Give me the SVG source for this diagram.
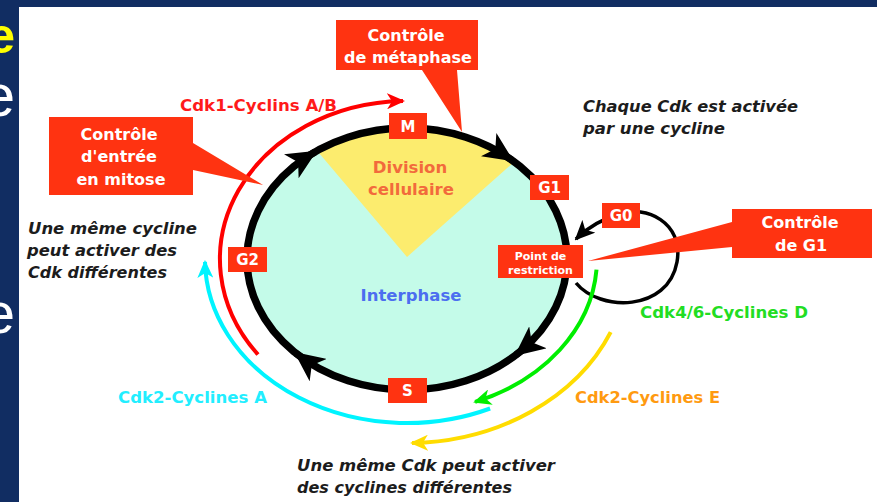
<svg xmlns="http://www.w3.org/2000/svg" width="877" height="502" viewBox="0 0 877 502">
<style>
.rd{fill:#ff3311}
.wt{fill:#fff;font-family:"DejaVu Sans",sans-serif;font-weight:bold;text-anchor:middle}
.cw{font-size:16px}
.lab{font-family:"DejaVu Sans",sans-serif;font-weight:bold;font-size:16.5px}
.it{font-family:"DejaVu Sans",sans-serif;font-weight:bold;font-style:italic;font-size:16px;fill:#1c1c1c}
.arc{fill:none;stroke-width:4}
</style>
<defs>
<marker id="mk" viewBox="0 0 30 28" refX="28" refY="14" markerWidth="30" markerHeight="28" markerUnits="userSpaceOnUse" orient="auto"><path d="M0,0 L30,14 L0,28 L8,14 Z" fill="#000"/></marker>
<marker id="mk0" viewBox="0 0 20 18" refX="18" refY="9" markerWidth="20" markerHeight="18" markerUnits="userSpaceOnUse" orient="auto"><path d="M0,0 L20,9 L0,18 L5,9 Z" fill="#000"/></marker>
<marker id="mr" viewBox="0 0 18 16" refX="16" refY="8" markerWidth="18" markerHeight="16" markerUnits="userSpaceOnUse" orient="auto"><path d="M0,0 L18,8 L0,16 L5,8 Z" fill="#ff0000"/></marker>
<marker id="mc" viewBox="0 0 18 16" refX="16" refY="8" markerWidth="18" markerHeight="16" markerUnits="userSpaceOnUse" orient="auto"><path d="M0,0 L18,8 L0,16 L5,8 Z" fill="#00f4ff"/></marker>
<marker id="mg" viewBox="0 0 18 16" refX="16" refY="8" markerWidth="18" markerHeight="16" markerUnits="userSpaceOnUse" orient="auto"><path d="M0,0 L18,8 L0,16 L5,8 Z" fill="#00ee00"/></marker>
<marker id="my" viewBox="0 0 18 16" refX="16" refY="8" markerWidth="18" markerHeight="16" markerUnits="userSpaceOnUse" orient="auto"><path d="M0,0 L18,8 L0,16 L5,8 Z" fill="#ffdc00"/></marker>
</defs>

<rect width="877" height="502" fill="#112d62"/>
<rect x="19" y="7" width="858" height="495" fill="#ffffff"/>
<g id="slide-edge" font-family="'Liberation Sans',sans-serif" text-anchor="end">
<text x="15" y="53" font-size="50" font-weight="bold" fill="#ffff00">e</text>
<text x="15" y="116" font-size="60" fill="#ffffff">e</text>
<text x="15" y="333" font-size="58" fill="#ffffff">e</text>
</g>

<g id="cycle">
<ellipse cx="407" cy="259" rx="160" ry="131" fill="#c4fbe9"/>
<path d="M407,257 L317.1,150.7 A160,131 0 0,1 514.3,161.8 Z" fill="#fcec6e"/>
<ellipse cx="407" cy="259" rx="160" ry="131" fill="none" stroke="#000" stroke-width="7.5"/>
<text class="lab" x="410" y="173" text-anchor="middle" font-size="17" fill="#f26a3c">Division</text>
<text class="lab" x="411" y="195" text-anchor="middle" font-size="17" fill="#f26a3c">cellulaire</text>
<text class="lab" x="411" y="301" text-anchor="middle" font-size="17.5" fill="#4c6ef0">Interphase</text>
</g>

<g id="connectors">
<path d="M308.5,155.8 L315.2,151.7" stroke="#000" stroke-width="7" marker-end="url(#mk)"/>
<path d="M505.5,155.8 L512,160.1" stroke="#000" stroke-width="7" marker-end="url(#mk)"/>
<path d="M522.1,350 L516.1,354.8" stroke="#000" stroke-width="7" marker-end="url(#mk)"/>
<path d="M302,357.9 L295.8,353.2" stroke="#000" stroke-width="7" marker-end="url(#mk)"/>
<path d="M576,283 C600,312 668,312 677,262 C684,222 645,205 620,214 C602,219 587,228 576,239" fill="none" stroke="#000" stroke-width="3.5" marker-end="url(#mk0)"/>
<path class="arc" d="M258,354.5 A187,158 0 0,1 403,101" stroke="#ff0000" stroke-width="3.5" marker-end="url(#mr)"/>
<path class="arc" d="M490.1,408.5 A202,164 0 0,1 205,261.9" stroke="#00f4ff" marker-end="url(#mc)"/>
<path class="arc" d="M596.5,269.7 A190,153 0 0,1 475.1,401.8" stroke="#00ee00" marker-end="url(#mg)"/>
<path class="arc" d="M610.7,332.1 A222,184 0 0,1 412,443" stroke="#ffdc00" marker-end="url(#my)"/>
</g>

<g id="callout-mitose">
<path class="rd" d="M49,117 H193 V143 L263,185 L193,170 V195 H49 Z"/>
<text class="wt cw" x="119" y="140">Contrôle</text>
<text class="wt cw" x="119" y="162">d'entrée</text>
<text class="wt cw" x="121" y="185">en mitose</text>
</g>
<g id="callout-metaphase">
<path class="rd" d="M336,20 H478 V70 H457 L462,132 L422,70 H336 Z"/>
<text class="wt cw" x="406" y="41">Contrôle</text>
<text class="wt cw" x="408" y="63">de métaphase</text>
</g>
<g id="callout-g1">
<path class="rd" d="M732,209 H872 V258 H732 V247 L588,261 L732,222 Z"/>
<text class="wt cw" x="800" y="228">Contrôle</text>
<text class="wt cw" x="801" y="251">de G1</text>
</g>

<g id="phase-M"><rect class="rd" x="389" y="113" width="38" height="26"/><text class="wt" x="408" y="132" font-size="15">M</text></g>
<g id="phase-G1"><rect class="rd" x="530" y="175" width="39" height="25"/><text class="wt" x="549.5" y="193" font-size="15">G1</text></g>
<g id="phase-G0"><rect class="rd" x="602" y="203" width="38" height="25"/><text class="wt" x="621" y="221" font-size="15">G0</text></g>
<g id="phase-G2"><rect class="rd" x="228" y="247" width="39" height="25"/><text class="wt" x="247.5" y="265" font-size="15">G2</text></g>
<g id="phase-S"><rect class="rd" x="388" y="378" width="39" height="25"/><text class="wt" x="407.5" y="396" font-size="15">S</text></g>
<g id="restriction"><rect class="rd" x="498" y="245" width="85" height="33"/><text class="wt" x="540.5" y="260" font-size="11">Point de</text><text class="wt" x="540.5" y="274" font-size="11">restriction</text></g>

<g id="labels">
<text class="lab" x="180" y="111" fill="#ff1a1a" textLength="157" lengthAdjust="spacingAndGlyphs">Cdk1-Cyclins A/B</text>
<text class="lab" x="640" y="318" fill="#22dd22" textLength="168" lengthAdjust="spacingAndGlyphs">Cdk4/6-Cyclines D</text>
<text class="lab" x="575" y="403" fill="#ff9a10" textLength="145" lengthAdjust="spacingAndGlyphs">Cdk2-Cyclines E</text>
<text class="lab" x="118" y="403" fill="#22eeff" textLength="149" lengthAdjust="spacingAndGlyphs">Cdk2-Cyclines A</text>
<text class="it" x="583" y="112" textLength="215" lengthAdjust="spacingAndGlyphs">Chaque Cdk est activée</text>
<text class="it" x="583" y="134" textLength="142" lengthAdjust="spacingAndGlyphs">par une cycline</text>
<text class="it" x="28" y="234" textLength="169" lengthAdjust="spacingAndGlyphs">Une même cycline</text>
<text class="it" x="27" y="256" textLength="150" lengthAdjust="spacingAndGlyphs">peut activer des</text>
<text class="it" x="28" y="278" textLength="139" lengthAdjust="spacingAndGlyphs">Cdk différentes</text>
<text class="it" x="297" y="471" textLength="258" lengthAdjust="spacingAndGlyphs">Une même Cdk peut activer</text>
<text class="it" x="297" y="493" textLength="215" lengthAdjust="spacingAndGlyphs">des cyclines différentes</text>
</g>
</svg>
